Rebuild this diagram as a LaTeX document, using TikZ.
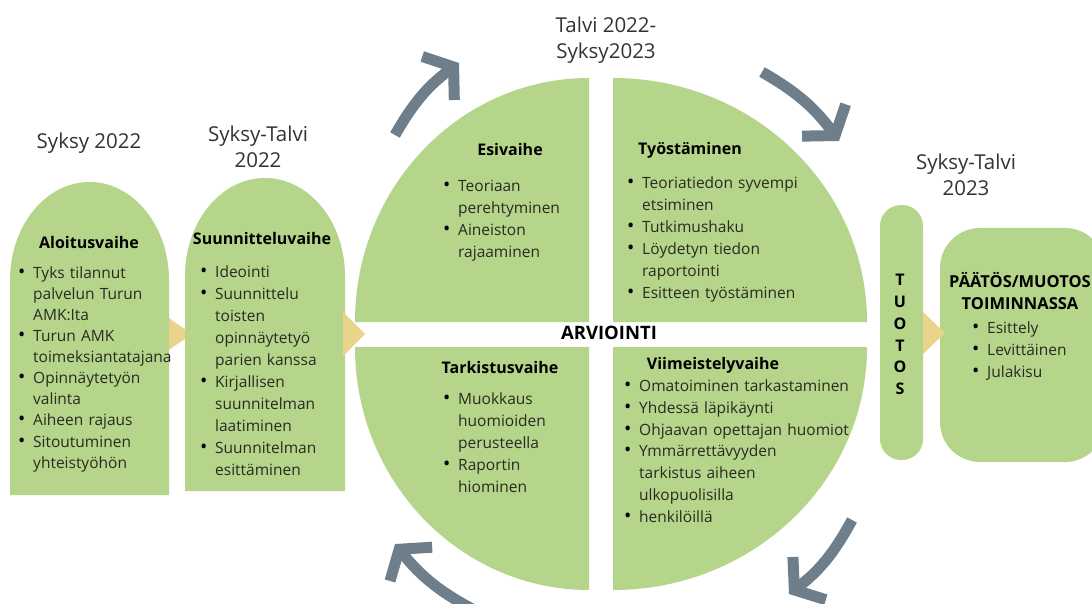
\documentclass[tikz,border=0pt]{standalone}
\usepackage{fontspec}
\setmainfont{Open Sans}
\usetikzlibrary{arrows.meta}
\definecolor{leaf}{HTML}{B5D58B}
\definecolor{sand}{HTML}{EAD38A}
\definecolor{slate}{HTML}{6E7E8A}
\definecolor{ink}{HTML}{2A2A22}
\definecolor{lblgray}{HTML}{333333}

% one bullet line, continuation lines hang under the text
\newcommand{\bitem}[1]{\par\hangindent=15pt\noindent
  \makebox[15pt][l]{\color{black}\scalebox{1.25}{\textbullet}}#1}

\begin{document}
\begin{tikzpicture}[
  x=1pt, y=-1pt,
  heading/.style={font=\fontsize{16}{19}\selectfont\bfseries, text=black, inner sep=0pt},
  period/.style={font=\fontsize{20.5}{26}\selectfont, text=lblgray, align=center, inner sep=0pt},
  blist/.style={anchor=north west, font=\fontsize{15.5}{#1}\selectfont, text=ink,
    text width=240pt, align=left, inner sep=0pt},
  chev/.style={fill=sand},
  cyc/.style={line width=11pt, slate, -{Straight Barb[length=19pt, width=54pt]}},
]

% Page
\useasboundingbox (0,0) rectangle (1092,604);
\clip (0,0) rectangle (1092,604);
\fill[white] (0,0) rectangle (1092,604);

% =============================================
% Chevrons between the stages
% =============================================
\fill[chev] (160,312) -- (192,334) -- (160,356) -- cycle;

% =============================================
% Arch shaped stage boxes
% =============================================
\fill[leaf] (10,495) -- (10,280)
  arc[start angle=180, end angle=360, x radius=79.5, y radius=98] -- (169,495) -- cycle;
\fill[leaf] (185,491) -- (185,276)
  arc[start angle=180, end angle=360, x radius=80, y radius=98] -- (345,491) -- cycle;

% =============================================
% Circle of four quarters
% =============================================
\fill[leaf] (589,322) -- (355,322)
  arc[start angle=180, end angle=270, x radius=234, y radius=244] -- cycle;
\fill[leaf] (613,322) -- (613,78)
  arc[start angle=270, end angle=360, x radius=254, y radius=244] -- cycle;
\fill[leaf] (613,347) -- (867,347)
  arc[start angle=0, end angle=90, x radius=254, y radius=243] -- cycle;
\fill[leaf] (589,347) -- (589,590)
  arc[start angle=90, end angle=180, x radius=234, y radius=243] -- cycle;

\fill[chev] (343,312) -- (365,334) -- (343,356) -- cycle;

% =============================================
% Product bar and final box
% =============================================
\fill[leaf, rounded corners=21pt] (880,205) rectangle (923,460);
\fill[leaf, rounded corners=40pt] (940,228) rectangle (1105,462);
\fill[chev] (923,312) -- (945,333) -- (923,354) -- cycle;

% =============================================
% Cycle arrows round the circle
% =============================================
\coordinate (tl-a) at (395,135);
\coordinate (tl-b) at (459,63);
\coordinate (tr-a) at (762,72);
\coordinate (tr-b) at (839,141);
\coordinate (br-a) at (852,520);
\coordinate (br-b) at (789,594);
\coordinate (bl-a) at (478,612);
\coordinate (bl-b) at (395,544);
\draw[cyc] (tl-a) to[bend left=12] (tl-b);
\draw[cyc] (tr-a) to[bend left=12] (tr-b);
\draw[cyc] (br-a) to[bend left=12] (br-b);
\draw[cyc] (bl-a) to[bend left=12] (bl-b);

% =============================================
% Periods
% =============================================
\node[period] (syksy22) at (89,143) {Syksy 2022};
\node[period] (syta22) at (258,147) {Syksy-Talvi\\2022};
\node[period] (tasy23) at (606,40) {Talvi 2022-\\Syksy2023};
\node[period] (syta23) at (966,175) {Syksy-Talvi\\2023};

% =============================================
% Stage texts
% =============================================
\node[heading] (aloitus) at (89,242) {Aloitusvaihe};
\node[blist=21.1pt] (aloitus-list) at (18,257)
  {\bitem{Tyks tilannut\newline palvelun Turun\newline AMK:Ita}%
   \bitem{Turun AMK\newline toimeksiantatajana}%
   \bitem{Opinnäytetyön\newline valinta}%
   \bitem{Aiheen rajaus}%
   \bitem{Sitoutuminen\newline yhteistyöhön}\par};

\node[heading] (suunn) at (262,238) {Suunnitteluvaihe};
\node[blist=22pt] (suunn-list) at (200,255.5)
  {\bitem{Ideointi}%
   \bitem{Suunnittelu\newline toisten\newline opinnäytetyö\newline parien kanssa}%
   \bitem{Kirjallisen\newline suunnitelman\newline laatiminen}%
   \bitem{Suunnitelman\newline esittäminen}\par};

\node[heading] (esi) at (510,150) {Esivaihe};
\node[blist=22pt] (esi-list) at (443,169.5)
  {\bitem{Teoriaan\newline perehtyminen}%
   \bitem{Aineiston\newline rajaaminen}\par};

\node[heading] (tyo) at (690,150) {Työstäminen};
\node[blist=22pt] (tyo-list) at (627,166)
  {\bitem{Teoriatiedon syvempi\newline etsiminen}%
   \bitem{Tutkimushaku}%
   \bitem{Löydetyn tiedon\newline raportointi}%
   \bitem{Esitteen työstäminen}\par};

\node[heading, font=\fontsize{18.5}{22}\selectfont\bfseries] (arvi) at (609,333) {ARVIOINTI};

\node[heading] (tark) at (500,367) {Tarkistusvaihe};
\node[blist=22pt] (tark-list) at (443,382.5)
  {\bitem{Muokkaus\newline huomioiden\newline perusteella}%
   \bitem{Raportin\newline hiominen}\par};

\node[heading] (viim) at (713,365) {Viimeistelyvaihe};
\node[blist=21.8pt] (viim-list) at (624,369.5)
  {\bitem{Omatoiminen tarkastaminen}%
   \bitem{Yhdessä läpikäynti}%
   \bitem{Ohjaavan opettajan huomiot}%
   \bitem{Ymmärrettävyyden\newline tarkistus aiheen\newline ulkopuolisilla}%
   \bitem{henkilöillä}\par};

% =============================================
% Product and final stage
% =============================================
\foreach \ch [count=\i from 0] in {T,U,O,T,O,S}
  \node[heading] (tuotos-\i) at (900,{280+21.8*\i}) {\ch};

\node[heading, align=center, font=\fontsize{16.5}{22}\selectfont\bfseries] (paatos) at (1020,291)
  {PÄÄTÖS/MUOTOS\\TOIMINNASSA};
\node[blist=22pt] (paatos-list) at (972,311.5)
  {\bitem{Esittely}%
   \bitem{Levittäinen}%
   \bitem{Julakisu}\par};

\end{tikzpicture}
\end{document}
